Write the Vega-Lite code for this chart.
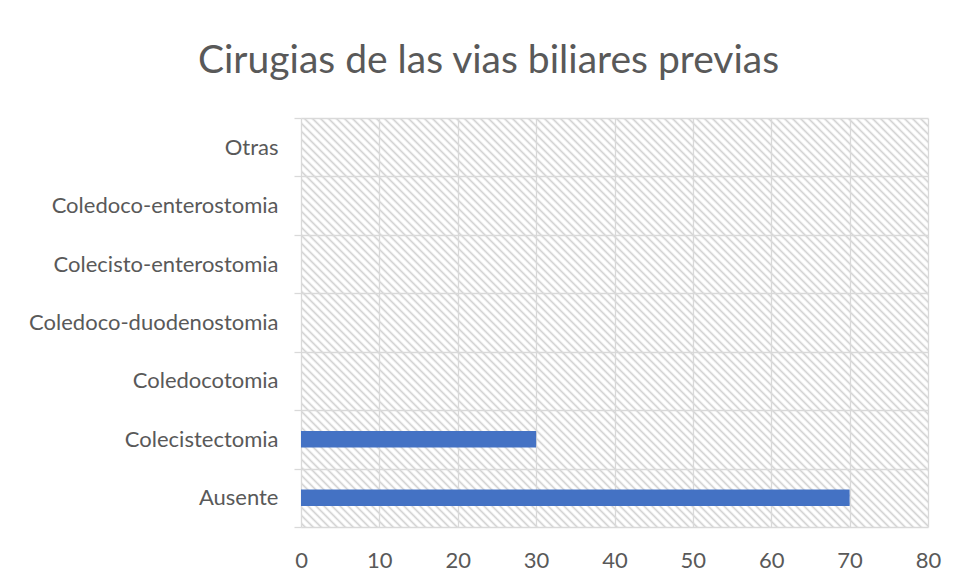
{
  "$schema": "https://vega.github.io/schema/vega-lite/v6.json",
  "width": 627,
  "height": 409,
  "autosize": "none",
  "padding": {"left": 301, "top": 118, "right": 28, "bottom": 57},
  "background": "white",
  "view": {
    "stroke": null,
    "fill": {
      "gradient": "linear", "x1": 0, "y1": 1, "x2": 1.1934, "y2": 0.2215,
      "stops": [
{"offset":0.0015,"color":"#fff"},{"offset":0.00375,"color":"#d3d3d3"},{"offset":0.006,"color":"#fff"},{"offset":0.009,"color":"#fff"},{"offset":0.01125,"color":"#d3d3d3"},{"offset":0.0135,"color":"#fff"},{"offset":0.0165,"color":"#fff"},{"offset":0.01875,"color":"#d3d3d3"},{"offset":0.021,"color":"#fff"},{"offset":0.024,"color":"#fff"},{"offset":0.02625,"color":"#d3d3d3"},{"offset":0.0285,"color":"#fff"},
{"offset":0.0315,"color":"#fff"},{"offset":0.03375,"color":"#d3d3d3"},{"offset":0.036,"color":"#fff"},{"offset":0.039,"color":"#fff"},{"offset":0.04125,"color":"#d3d3d3"},{"offset":0.0435,"color":"#fff"},{"offset":0.0465,"color":"#fff"},{"offset":0.04875,"color":"#d3d3d3"},{"offset":0.051,"color":"#fff"},{"offset":0.054,"color":"#fff"},{"offset":0.05625,"color":"#d3d3d3"},{"offset":0.0585,"color":"#fff"},
{"offset":0.0615,"color":"#fff"},{"offset":0.06375,"color":"#d3d3d3"},{"offset":0.066,"color":"#fff"},{"offset":0.069,"color":"#fff"},{"offset":0.07125,"color":"#d3d3d3"},{"offset":0.0735,"color":"#fff"},{"offset":0.0765,"color":"#fff"},{"offset":0.07875,"color":"#d3d3d3"},{"offset":0.081,"color":"#fff"},{"offset":0.084,"color":"#fff"},{"offset":0.08625,"color":"#d3d3d3"},{"offset":0.0885,"color":"#fff"},
{"offset":0.0915,"color":"#fff"},{"offset":0.09375,"color":"#d3d3d3"},{"offset":0.096,"color":"#fff"},{"offset":0.099,"color":"#fff"},{"offset":0.10125,"color":"#d3d3d3"},{"offset":0.1035,"color":"#fff"},{"offset":0.1065,"color":"#fff"},{"offset":0.10875,"color":"#d3d3d3"},{"offset":0.111,"color":"#fff"},{"offset":0.114,"color":"#fff"},{"offset":0.11625,"color":"#d3d3d3"},{"offset":0.1185,"color":"#fff"},
{"offset":0.1215,"color":"#fff"},{"offset":0.12375,"color":"#d3d3d3"},{"offset":0.126,"color":"#fff"},{"offset":0.129,"color":"#fff"},{"offset":0.13125,"color":"#d3d3d3"},{"offset":0.1335,"color":"#fff"},{"offset":0.1365,"color":"#fff"},{"offset":0.13875,"color":"#d3d3d3"},{"offset":0.141,"color":"#fff"},{"offset":0.144,"color":"#fff"},{"offset":0.14625,"color":"#d3d3d3"},{"offset":0.1485,"color":"#fff"},
{"offset":0.1515,"color":"#fff"},{"offset":0.15375,"color":"#d3d3d3"},{"offset":0.156,"color":"#fff"},{"offset":0.159,"color":"#fff"},{"offset":0.16125,"color":"#d3d3d3"},{"offset":0.1635,"color":"#fff"},{"offset":0.1665,"color":"#fff"},{"offset":0.16875,"color":"#d3d3d3"},{"offset":0.171,"color":"#fff"},{"offset":0.174,"color":"#fff"},{"offset":0.17625,"color":"#d3d3d3"},{"offset":0.1785,"color":"#fff"},
{"offset":0.1815,"color":"#fff"},{"offset":0.18375,"color":"#d3d3d3"},{"offset":0.186,"color":"#fff"},{"offset":0.189,"color":"#fff"},{"offset":0.19125,"color":"#d3d3d3"},{"offset":0.1935,"color":"#fff"},{"offset":0.1965,"color":"#fff"},{"offset":0.19875,"color":"#d3d3d3"},{"offset":0.201,"color":"#fff"},{"offset":0.204,"color":"#fff"},{"offset":0.20625,"color":"#d3d3d3"},{"offset":0.2085,"color":"#fff"},
{"offset":0.2115,"color":"#fff"},{"offset":0.21375,"color":"#d3d3d3"},{"offset":0.216,"color":"#fff"},{"offset":0.219,"color":"#fff"},{"offset":0.22125,"color":"#d3d3d3"},{"offset":0.2235,"color":"#fff"},{"offset":0.2265,"color":"#fff"},{"offset":0.22875,"color":"#d3d3d3"},{"offset":0.231,"color":"#fff"},{"offset":0.234,"color":"#fff"},{"offset":0.23625,"color":"#d3d3d3"},{"offset":0.2385,"color":"#fff"},
{"offset":0.2415,"color":"#fff"},{"offset":0.24375,"color":"#d3d3d3"},{"offset":0.246,"color":"#fff"},{"offset":0.249,"color":"#fff"},{"offset":0.25125,"color":"#d3d3d3"},{"offset":0.2535,"color":"#fff"},{"offset":0.2565,"color":"#fff"},{"offset":0.25875,"color":"#d3d3d3"},{"offset":0.261,"color":"#fff"},{"offset":0.264,"color":"#fff"},{"offset":0.26625,"color":"#d3d3d3"},{"offset":0.2685,"color":"#fff"},
{"offset":0.2715,"color":"#fff"},{"offset":0.27375,"color":"#d3d3d3"},{"offset":0.276,"color":"#fff"},{"offset":0.279,"color":"#fff"},{"offset":0.28125,"color":"#d3d3d3"},{"offset":0.2835,"color":"#fff"},{"offset":0.2865,"color":"#fff"},{"offset":0.28875,"color":"#d3d3d3"},{"offset":0.291,"color":"#fff"},{"offset":0.294,"color":"#fff"},{"offset":0.29625,"color":"#d3d3d3"},{"offset":0.2985,"color":"#fff"},
{"offset":0.3015,"color":"#fff"},{"offset":0.30375,"color":"#d3d3d3"},{"offset":0.306,"color":"#fff"},{"offset":0.309,"color":"#fff"},{"offset":0.31125,"color":"#d3d3d3"},{"offset":0.3135,"color":"#fff"},{"offset":0.3165,"color":"#fff"},{"offset":0.31875,"color":"#d3d3d3"},{"offset":0.321,"color":"#fff"},{"offset":0.324,"color":"#fff"},{"offset":0.32625,"color":"#d3d3d3"},{"offset":0.3285,"color":"#fff"},
{"offset":0.3315,"color":"#fff"},{"offset":0.33375,"color":"#d3d3d3"},{"offset":0.336,"color":"#fff"},{"offset":0.339,"color":"#fff"},{"offset":0.34125,"color":"#d3d3d3"},{"offset":0.3435,"color":"#fff"},{"offset":0.3465,"color":"#fff"},{"offset":0.34875,"color":"#d3d3d3"},{"offset":0.351,"color":"#fff"},{"offset":0.354,"color":"#fff"},{"offset":0.35625,"color":"#d3d3d3"},{"offset":0.3585,"color":"#fff"},
{"offset":0.3615,"color":"#fff"},{"offset":0.36375,"color":"#d3d3d3"},{"offset":0.366,"color":"#fff"},{"offset":0.369,"color":"#fff"},{"offset":0.37125,"color":"#d3d3d3"},{"offset":0.3735,"color":"#fff"},{"offset":0.3765,"color":"#fff"},{"offset":0.37875,"color":"#d3d3d3"},{"offset":0.381,"color":"#fff"},{"offset":0.384,"color":"#fff"},{"offset":0.38625,"color":"#d3d3d3"},{"offset":0.3885,"color":"#fff"},
{"offset":0.3915,"color":"#fff"},{"offset":0.39375,"color":"#d3d3d3"},{"offset":0.396,"color":"#fff"},{"offset":0.399,"color":"#fff"},{"offset":0.40125,"color":"#d3d3d3"},{"offset":0.4035,"color":"#fff"},{"offset":0.4065,"color":"#fff"},{"offset":0.40875,"color":"#d3d3d3"},{"offset":0.411,"color":"#fff"},{"offset":0.414,"color":"#fff"},{"offset":0.41625,"color":"#d3d3d3"},{"offset":0.4185,"color":"#fff"},
{"offset":0.4215,"color":"#fff"},{"offset":0.42375,"color":"#d3d3d3"},{"offset":0.426,"color":"#fff"},{"offset":0.429,"color":"#fff"},{"offset":0.43125,"color":"#d3d3d3"},{"offset":0.4335,"color":"#fff"},{"offset":0.4365,"color":"#fff"},{"offset":0.43875,"color":"#d3d3d3"},{"offset":0.441,"color":"#fff"},{"offset":0.444,"color":"#fff"},{"offset":0.44625,"color":"#d3d3d3"},{"offset":0.4485,"color":"#fff"},
{"offset":0.4515,"color":"#fff"},{"offset":0.45375,"color":"#d3d3d3"},{"offset":0.456,"color":"#fff"},{"offset":0.459,"color":"#fff"},{"offset":0.46125,"color":"#d3d3d3"},{"offset":0.4635,"color":"#fff"},{"offset":0.4665,"color":"#fff"},{"offset":0.46875,"color":"#d3d3d3"},{"offset":0.471,"color":"#fff"},{"offset":0.474,"color":"#fff"},{"offset":0.47625,"color":"#d3d3d3"},{"offset":0.4785,"color":"#fff"},
{"offset":0.4815,"color":"#fff"},{"offset":0.48375,"color":"#d3d3d3"},{"offset":0.486,"color":"#fff"},{"offset":0.489,"color":"#fff"},{"offset":0.49125,"color":"#d3d3d3"},{"offset":0.4935,"color":"#fff"},{"offset":0.4965,"color":"#fff"},{"offset":0.49875,"color":"#d3d3d3"},{"offset":0.501,"color":"#fff"},{"offset":0.504,"color":"#fff"},{"offset":0.50625,"color":"#d3d3d3"},{"offset":0.5085,"color":"#fff"},
{"offset":0.5115,"color":"#fff"},{"offset":0.51375,"color":"#d3d3d3"},{"offset":0.516,"color":"#fff"},{"offset":0.519,"color":"#fff"},{"offset":0.52125,"color":"#d3d3d3"},{"offset":0.5235,"color":"#fff"},{"offset":0.5265,"color":"#fff"},{"offset":0.52875,"color":"#d3d3d3"},{"offset":0.531,"color":"#fff"},{"offset":0.534,"color":"#fff"},{"offset":0.53625,"color":"#d3d3d3"},{"offset":0.5385,"color":"#fff"},
{"offset":0.5415,"color":"#fff"},{"offset":0.54375,"color":"#d3d3d3"},{"offset":0.546,"color":"#fff"},{"offset":0.549,"color":"#fff"},{"offset":0.55125,"color":"#d3d3d3"},{"offset":0.5535,"color":"#fff"},{"offset":0.5565,"color":"#fff"},{"offset":0.55875,"color":"#d3d3d3"},{"offset":0.561,"color":"#fff"},{"offset":0.564,"color":"#fff"},{"offset":0.56625,"color":"#d3d3d3"},{"offset":0.5685,"color":"#fff"},
{"offset":0.5715,"color":"#fff"},{"offset":0.57375,"color":"#d3d3d3"},{"offset":0.576,"color":"#fff"},{"offset":0.579,"color":"#fff"},{"offset":0.58125,"color":"#d3d3d3"},{"offset":0.5835,"color":"#fff"},{"offset":0.5865,"color":"#fff"},{"offset":0.58875,"color":"#d3d3d3"},{"offset":0.591,"color":"#fff"},{"offset":0.594,"color":"#fff"},{"offset":0.59625,"color":"#d3d3d3"},{"offset":0.5985,"color":"#fff"},
{"offset":0.6015,"color":"#fff"},{"offset":0.60375,"color":"#d3d3d3"},{"offset":0.606,"color":"#fff"},{"offset":0.609,"color":"#fff"},{"offset":0.61125,"color":"#d3d3d3"},{"offset":0.6135,"color":"#fff"},{"offset":0.6165,"color":"#fff"},{"offset":0.61875,"color":"#d3d3d3"},{"offset":0.621,"color":"#fff"},{"offset":0.624,"color":"#fff"},{"offset":0.62625,"color":"#d3d3d3"},{"offset":0.6285,"color":"#fff"},
{"offset":0.6315,"color":"#fff"},{"offset":0.63375,"color":"#d3d3d3"},{"offset":0.636,"color":"#fff"},{"offset":0.639,"color":"#fff"},{"offset":0.64125,"color":"#d3d3d3"},{"offset":0.6435,"color":"#fff"},{"offset":0.6465,"color":"#fff"},{"offset":0.64875,"color":"#d3d3d3"},{"offset":0.651,"color":"#fff"},{"offset":0.654,"color":"#fff"},{"offset":0.65625,"color":"#d3d3d3"},{"offset":0.6585,"color":"#fff"},
{"offset":0.6615,"color":"#fff"},{"offset":0.66375,"color":"#d3d3d3"},{"offset":0.666,"color":"#fff"},{"offset":0.669,"color":"#fff"},{"offset":0.67125,"color":"#d3d3d3"},{"offset":0.6735,"color":"#fff"},{"offset":0.6765,"color":"#fff"},{"offset":0.67875,"color":"#d3d3d3"},{"offset":0.681,"color":"#fff"},{"offset":0.684,"color":"#fff"},{"offset":0.68625,"color":"#d3d3d3"},{"offset":0.6885,"color":"#fff"},
{"offset":0.6915,"color":"#fff"},{"offset":0.69375,"color":"#d3d3d3"},{"offset":0.696,"color":"#fff"},{"offset":0.699,"color":"#fff"},{"offset":0.70125,"color":"#d3d3d3"},{"offset":0.7035,"color":"#fff"},{"offset":0.7065,"color":"#fff"},{"offset":0.70875,"color":"#d3d3d3"},{"offset":0.711,"color":"#fff"},{"offset":0.714,"color":"#fff"},{"offset":0.71625,"color":"#d3d3d3"},{"offset":0.7185,"color":"#fff"},
{"offset":0.7215,"color":"#fff"},{"offset":0.72375,"color":"#d3d3d3"},{"offset":0.726,"color":"#fff"},{"offset":0.729,"color":"#fff"},{"offset":0.73125,"color":"#d3d3d3"},{"offset":0.7335,"color":"#fff"},{"offset":0.7365,"color":"#fff"},{"offset":0.73875,"color":"#d3d3d3"},{"offset":0.741,"color":"#fff"},{"offset":0.744,"color":"#fff"},{"offset":0.74625,"color":"#d3d3d3"},{"offset":0.7485,"color":"#fff"},
{"offset":0.7515,"color":"#fff"},{"offset":0.75375,"color":"#d3d3d3"},{"offset":0.756,"color":"#fff"},{"offset":0.759,"color":"#fff"},{"offset":0.76125,"color":"#d3d3d3"},{"offset":0.7635,"color":"#fff"},{"offset":0.7665,"color":"#fff"},{"offset":0.76875,"color":"#d3d3d3"},{"offset":0.771,"color":"#fff"},{"offset":0.774,"color":"#fff"},{"offset":0.77625,"color":"#d3d3d3"},{"offset":0.7785,"color":"#fff"},
{"offset":0.7815,"color":"#fff"},{"offset":0.78375,"color":"#d3d3d3"},{"offset":0.786,"color":"#fff"},{"offset":0.789,"color":"#fff"},{"offset":0.79125,"color":"#d3d3d3"},{"offset":0.7935,"color":"#fff"},{"offset":0.7965,"color":"#fff"},{"offset":0.79875,"color":"#d3d3d3"},{"offset":0.801,"color":"#fff"},{"offset":0.804,"color":"#fff"},{"offset":0.80625,"color":"#d3d3d3"},{"offset":0.8085,"color":"#fff"},
{"offset":0.8115,"color":"#fff"},{"offset":0.81375,"color":"#d3d3d3"},{"offset":0.816,"color":"#fff"},{"offset":0.819,"color":"#fff"},{"offset":0.82125,"color":"#d3d3d3"},{"offset":0.8235,"color":"#fff"},{"offset":0.8265,"color":"#fff"},{"offset":0.82875,"color":"#d3d3d3"},{"offset":0.831,"color":"#fff"},{"offset":0.834,"color":"#fff"},{"offset":0.83625,"color":"#d3d3d3"},{"offset":0.8385,"color":"#fff"},
{"offset":0.8415,"color":"#fff"},{"offset":0.84375,"color":"#d3d3d3"},{"offset":0.846,"color":"#fff"},{"offset":0.849,"color":"#fff"},{"offset":0.85125,"color":"#d3d3d3"},{"offset":0.8535,"color":"#fff"},{"offset":0.8565,"color":"#fff"},{"offset":0.85875,"color":"#d3d3d3"},{"offset":0.861,"color":"#fff"},{"offset":0.864,"color":"#fff"},{"offset":0.86625,"color":"#d3d3d3"},{"offset":0.8685,"color":"#fff"},
{"offset":0.8715,"color":"#fff"},{"offset":0.87375,"color":"#d3d3d3"},{"offset":0.876,"color":"#fff"},{"offset":0.879,"color":"#fff"},{"offset":0.88125,"color":"#d3d3d3"},{"offset":0.8835,"color":"#fff"},{"offset":0.8865,"color":"#fff"},{"offset":0.88875,"color":"#d3d3d3"},{"offset":0.891,"color":"#fff"},{"offset":0.894,"color":"#fff"},{"offset":0.89625,"color":"#d3d3d3"},{"offset":0.8985,"color":"#fff"},
{"offset":0.9015,"color":"#fff"},{"offset":0.90375,"color":"#d3d3d3"},{"offset":0.906,"color":"#fff"},{"offset":0.909,"color":"#fff"},{"offset":0.91125,"color":"#d3d3d3"},{"offset":0.9135,"color":"#fff"},{"offset":0.9165,"color":"#fff"},{"offset":0.91875,"color":"#d3d3d3"},{"offset":0.921,"color":"#fff"},{"offset":0.924,"color":"#fff"},{"offset":0.92625,"color":"#d3d3d3"},{"offset":0.9285,"color":"#fff"},
{"offset":0.9315,"color":"#fff"},{"offset":0.93375,"color":"#d3d3d3"},{"offset":0.936,"color":"#fff"},{"offset":0.939,"color":"#fff"},{"offset":0.94125,"color":"#d3d3d3"},{"offset":0.9435,"color":"#fff"},{"offset":0.9465,"color":"#fff"},{"offset":0.94875,"color":"#d3d3d3"},{"offset":0.951,"color":"#fff"},{"offset":0.954,"color":"#fff"},{"offset":0.95625,"color":"#d3d3d3"},{"offset":0.9585,"color":"#fff"},
{"offset":0.9615,"color":"#fff"},{"offset":0.96375,"color":"#d3d3d3"},{"offset":0.966,"color":"#fff"},{"offset":0.969,"color":"#fff"},{"offset":0.97125,"color":"#d3d3d3"},{"offset":0.9735,"color":"#fff"},{"offset":0.9765,"color":"#fff"},{"offset":0.97875,"color":"#d3d3d3"},{"offset":0.981,"color":"#fff"},{"offset":0.984,"color":"#fff"},{"offset":0.98625,"color":"#d3d3d3"},{"offset":0.9885,"color":"#fff"}
      ]
    }
  },
  "title": {
    "text": "Cirugias de las vias biliares previas",
    "font": "Lato",
    "fontSize": 39,
    "fontWeight": "normal",
    "color": "#595959",
    "anchor": "middle",
    "frame": "group",
    "dx": -126,
    "dy": 9,
    "baseline": "alphabetic",
    "offset": 4
  },
  "data": {
    "values": [
      {"tipo": "Otras", "n": 0},
      {"tipo": "Coledoco-enterostomia", "n": 0},
      {"tipo": "Colecisto-enterostomia", "n": 0},
      {"tipo": "Coledoco-duodenostomia", "n": 0},
      {"tipo": "Coledocotomia", "n": 0},
      {"tipo": "Colecistectomia", "n": 30},
      {"tipo": "Ausente", "n": 70}
    ]
  },
  "mark": {"type": "bar", "color": "#4472C4", "size": 16.5},
  "encoding": {
    "y": {
      "field": "tipo",
      "type": "nominal",
      "sort": null,
      "scale": {"paddingInner": 0, "paddingOuter": 0},
      "axis": {
        "title": null,
        "grid": true,
        "gridColor": "#d9d9d9",
        "gridWidth": 1.3,
        "tickBand": "extent",
        "ticks": true,
        "tickColor": "#d9d9d9",
        "tickWidth": 1.3,
        "tickSize": 7,
        "domain": false,
        "labelPadding": 16,
        "labelLimit": 0,
        "labelFont": "Lato",
        "labelFontSize": 22,
        "labelColor": "#595959"
      }
    },
    "x": {
      "field": "n",
      "type": "quantitative",
      "scale": {"domain": [0, 80], "nice": false},
      "axis": {
        "title": null,
        "values": [0, 10, 20, 30, 40, 50, 60, 70, 80],
        "grid": true,
        "gridColor": "#d9d9d9",
        "gridWidth": 1.3,
        "ticks": false,
        "domain": false,
        "labelFlush": false,
        "labelPadding": 23,
        "labelFont": "Lato",
        "labelFontSize": 22,
        "labelColor": "#595959"
      }
    }
  }
}
